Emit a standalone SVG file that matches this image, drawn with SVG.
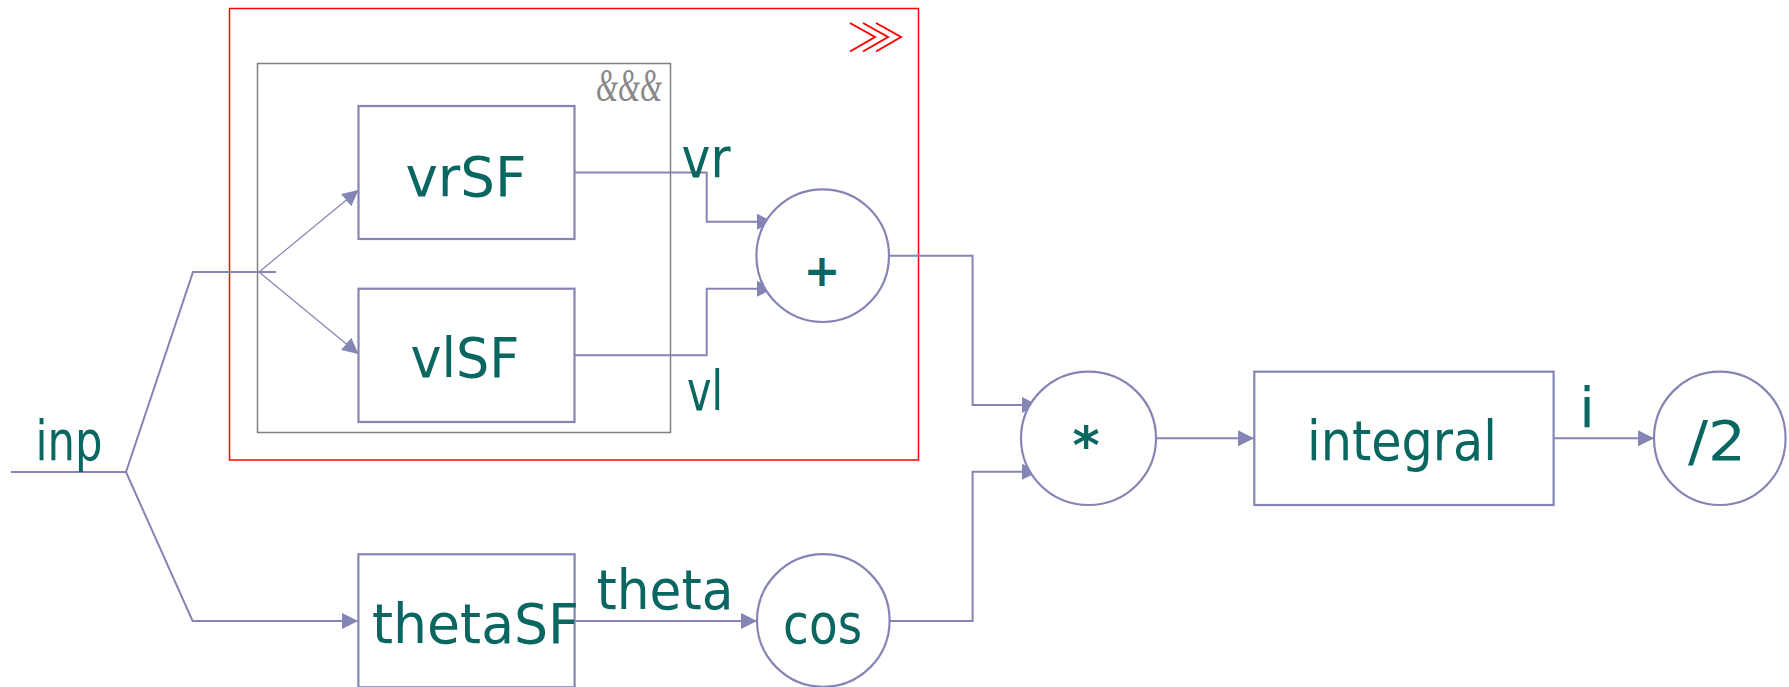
<svg xmlns="http://www.w3.org/2000/svg" width="1789" height="687" viewBox="0 0 1789 687">
<style>
.ln{fill:none;stroke:#8585b5;stroke-width:2}
.thin{fill:none;stroke:#8585b5;stroke-width:1.2}
.box{fill:#fff;stroke:#8585b5;stroke-width:2.2}
.t{font-family:"DejaVu Sans","Noto Sans",sans-serif;font-size:56px;fill:#0a6660;text-anchor:middle}
.amp{font-family:"Liberation Serif","DejaVu Serif",serif;font-style:italic;font-size:46px;fill:#888;text-anchor:middle}
.chev{fill:none;stroke:#ff0000;stroke-width:2}
</style>
<defs>
<marker id="ah" markerWidth="16" markerHeight="16" refX="16" refY="8" orient="auto" markerUnits="userSpaceOnUse" viewBox="0 0 16 16">
<path d="M0,0 L16,8 L0,16 Z" fill="#8585b5"/>
</marker>
</defs>
<rect width="1789" height="687" fill="#fff"/>
<g id="parallel-group">
<rect x="229.5" y="8.5" width="689" height="451.5" fill="none" stroke="#ff0000" stroke-width="1.5"/>
<polyline class="chev" points="850,23 875,37 850,51.5"/>
<polyline class="chev" points="863,23 888,37 863,51.5"/>
<polyline class="chev" points="876,23 901,37 876,51.5"/>
</g>
<g id="fanout-group">
<rect x="257.5" y="63.5" width="413" height="369" fill="none" stroke="#808080" stroke-width="1.5"/>
<text class="amp" x="629" y="101" textLength="66" lengthAdjust="spacingAndGlyphs">&amp;&amp;&amp;</text>
</g>
<g id="connectors">
<polyline class="ln" points="11,472 126,472 193,272 276,272"/>
<polyline class="ln" points="126,472 192.6,621 358,621" marker-end="url(#ah)"/>
<line class="thin" x1="259" y1="272" x2="358.5" y2="190" marker-end="url(#ah)"/>
<line class="thin" x1="259" y1="272" x2="358.5" y2="354" marker-end="url(#ah)"/>
<polyline class="ln" points="575,172.5 706.7,172.5 706.7,221.7 773,221.7" marker-end="url(#ah)"/>
<polyline class="ln" points="575,355.3 706.7,355.3 706.7,288.7 773,288.7" marker-end="url(#ah)"/>
<polyline class="ln" points="889,255.7 972.6,255.7 972.6,405 1038,405" marker-end="url(#ah)"/>
<polyline class="ln" points="575,621 757,621" marker-end="url(#ah)"/>
<polyline class="ln" points="889,621 972.6,621 972.6,471.7 1038,471.7" marker-end="url(#ah)"/>
<polyline class="ln" points="1156,438.3 1254,438.3" marker-end="url(#ah)"/>
<polyline class="ln" points="1554,438.3 1654,438.3" marker-end="url(#ah)"/>
</g>
<g id="inp-label"><text class="t" x="69" y="460" textLength="67" lengthAdjust="spacingAndGlyphs">inp</text></g>
<g id="vrSF">
<rect class="box" x="358.5" y="106" width="216" height="133"/>
<text class="t" x="466" y="196" textLength="121" lengthAdjust="spacingAndGlyphs">vrSF</text>
</g>
<g id="vlSF">
<rect class="box" x="358.5" y="288.7" width="216" height="133.3"/>
<text class="t" x="465" y="377" textLength="109" lengthAdjust="spacingAndGlyphs">vlSF</text>
</g>
<g id="vr-label"><text class="t" x="706" y="177" textLength="49" lengthAdjust="spacingAndGlyphs">vr</text></g>
<g id="vl-label"><text class="t" x="705" y="410" textLength="36" lengthAdjust="spacingAndGlyphs">vl</text></g>
<g id="plus">
<circle class="box" cx="822.7" cy="255.7" r="66.3"/>
<text class="t" x="822" y="286" style="font-size:44px;font-weight:bold">+</text>
</g>
<g id="thetaSF">
<rect class="box" x="358.4" y="554.3" width="216.2" height="133"/>
<text class="t" x="475.5" y="643" textLength="207" lengthAdjust="spacingAndGlyphs">thetaSF</text>
</g>
<g id="theta-label"><text class="t" x="665" y="609" textLength="137" lengthAdjust="spacingAndGlyphs">theta</text></g>
<g id="cos">
<circle class="box" cx="823.3" cy="620.5" r="66.3"/>
<text class="t" x="822.6" y="643" textLength="79" lengthAdjust="spacingAndGlyphs">cos</text>
</g>
<g id="mul">
<ellipse class="box" cx="1088.5" cy="438.3" rx="67.5" ry="66.7"/>
<text class="t" x="1086" y="463" style="font-size:52px;font-weight:bold">*</text>
</g>
<g id="integral">
<rect class="box" x="1254.3" y="371.7" width="299.3" height="133.3"/>
<text class="t" x="1402" y="460" textLength="190" lengthAdjust="spacingAndGlyphs">integral</text>
</g>
<g id="i-label"><text class="t" x="1587" y="427">i</text></g>
<g id="div2">
<ellipse class="box" cx="1719.8" cy="438.3" rx="65.8" ry="66.7"/>
<text class="t" x="1717" y="460" textLength="58" lengthAdjust="spacingAndGlyphs">/2</text>
</g>
</svg>
